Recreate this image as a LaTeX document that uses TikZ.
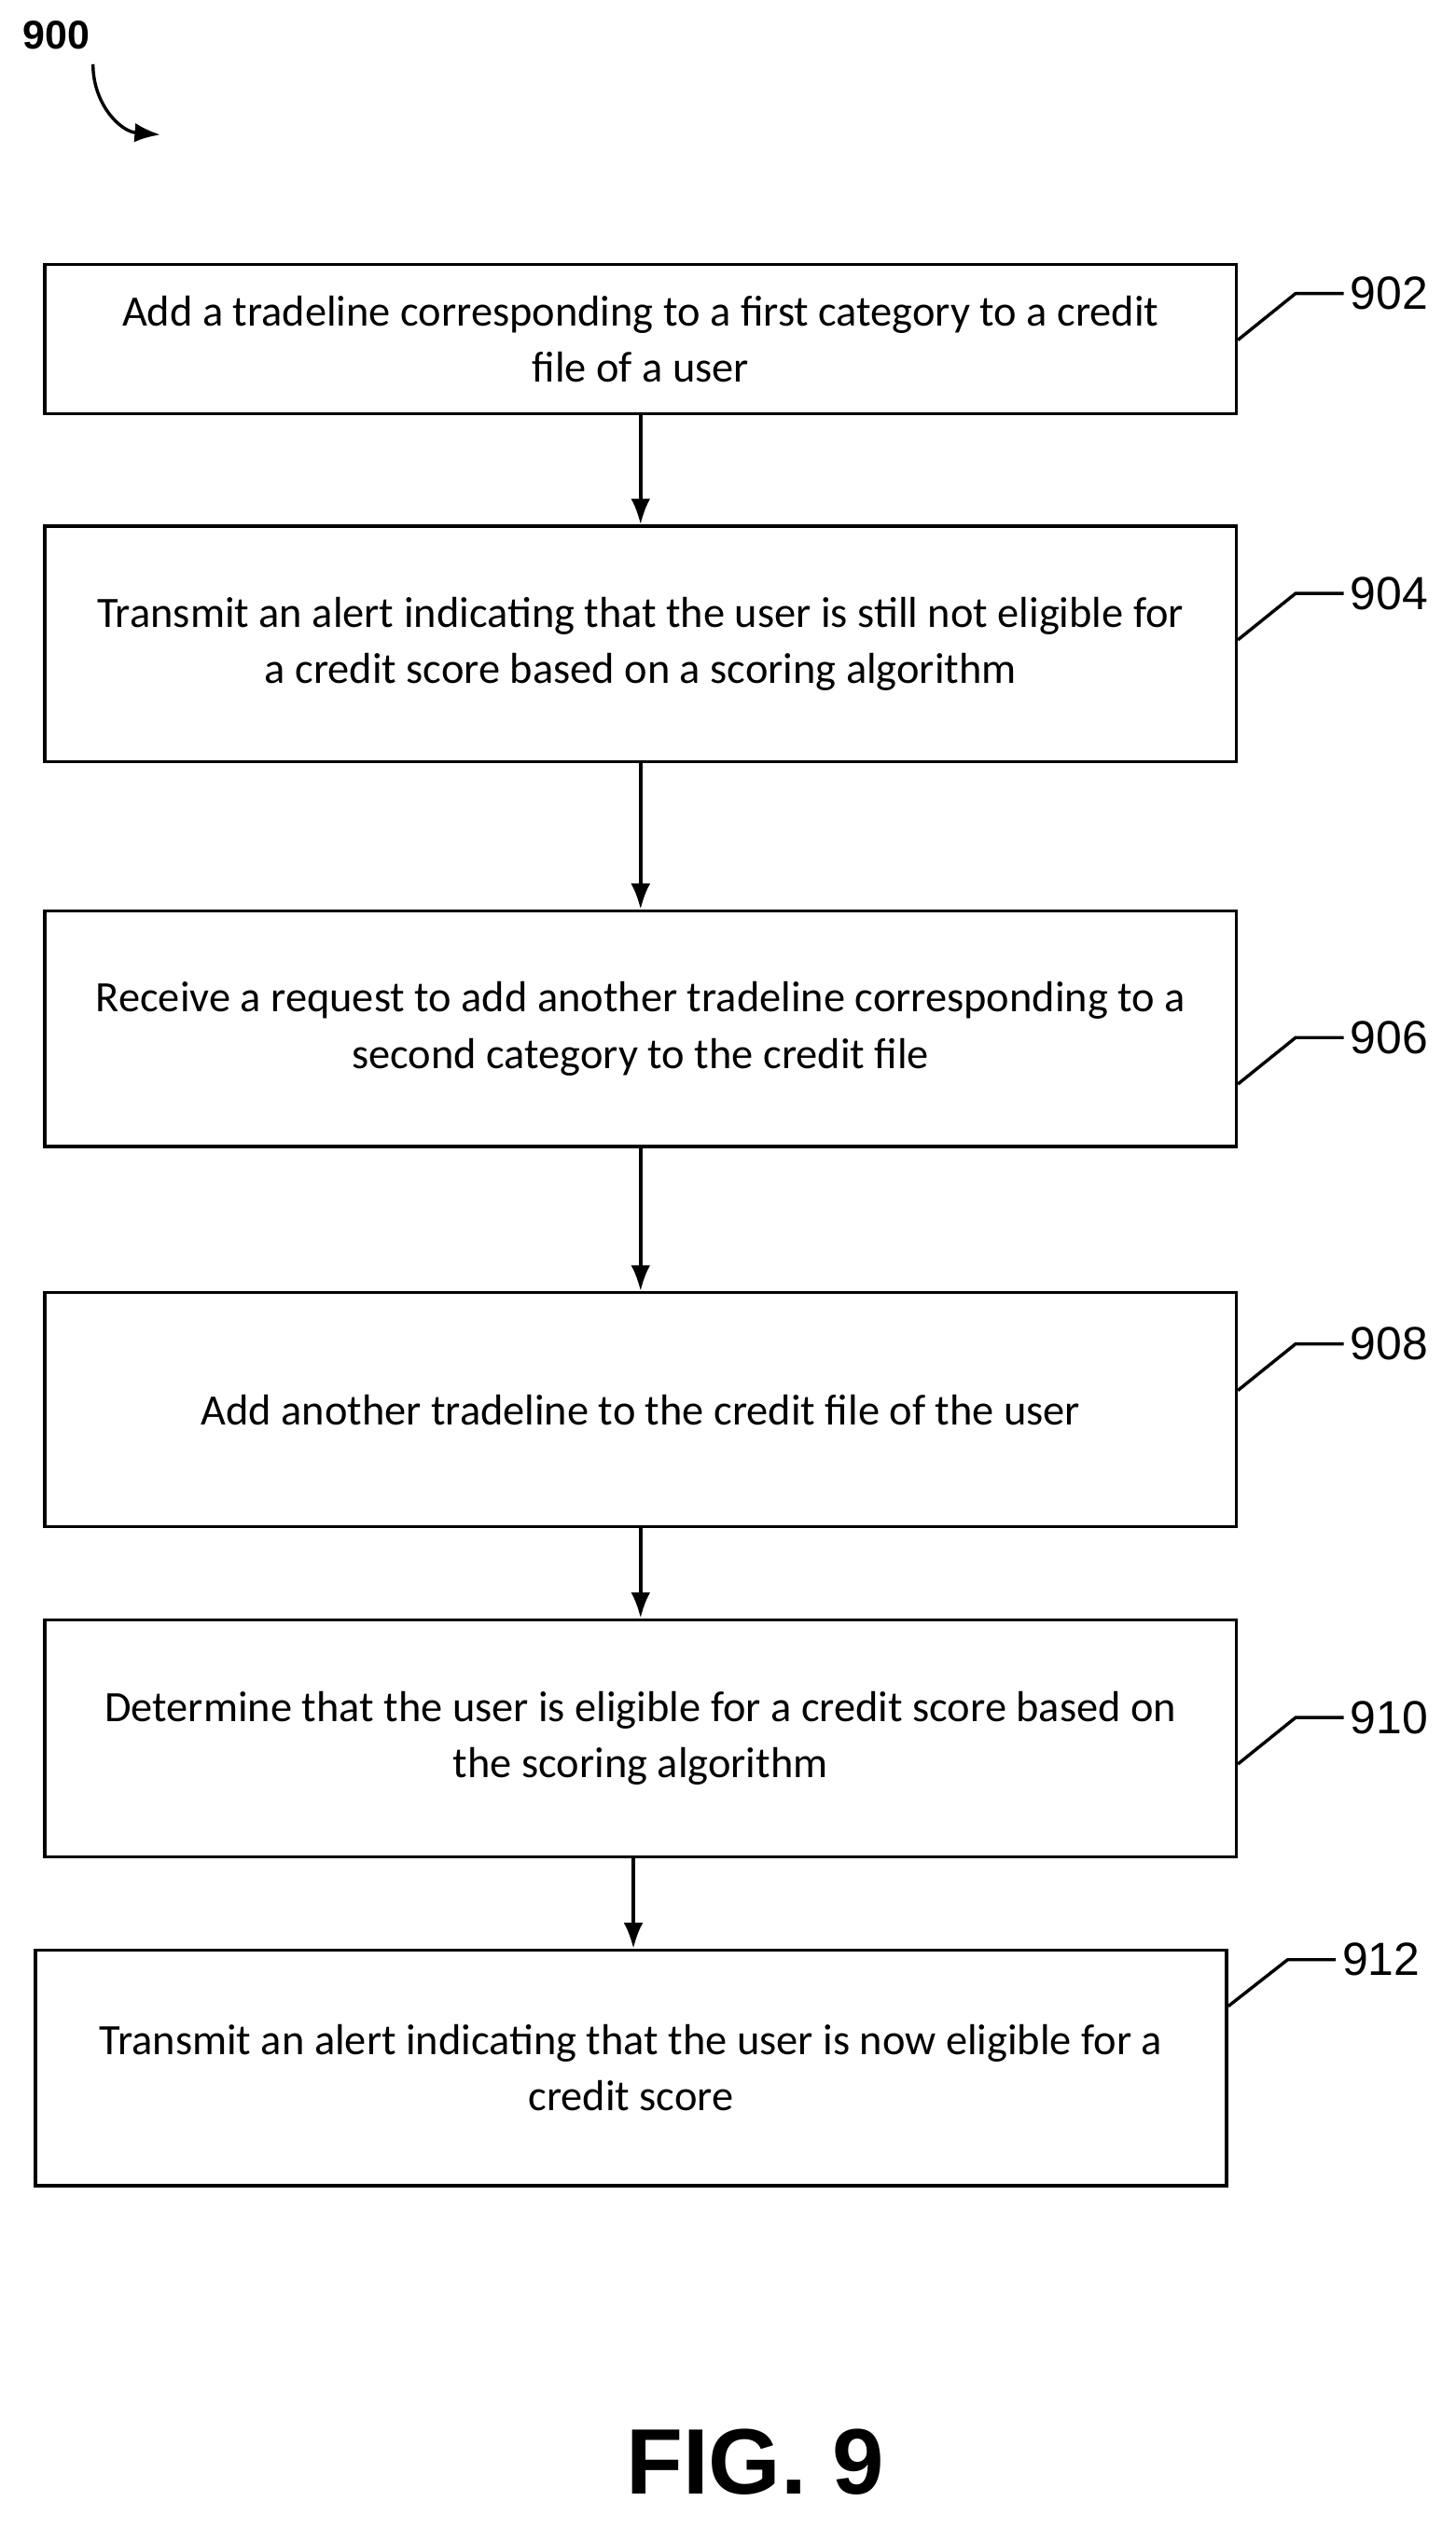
\documentclass[tikz,border=0pt]{standalone}
\usepackage{fontspec}
\setmainfont{Carlito}
\newfontfamily\labelfont{Liberation Sans}
\usetikzlibrary{positioning,arrows.meta}

\tikzset{
    stepbox/.style={draw, line width=2pt, minimum width=743pt, align=center,
        inner sep=0pt, font=\fontsize{27}{35}\selectfont},
    flow/.style={line width=2pt, -{Latex[length=16pt,width=12pt]}},
    leader/.style={line width=2pt},
    ref/.style={font=\labelfont\fontsize{29}{30}\selectfont, anchor=west, inner sep=0pt}
}

\begin{document}
\begin{tikzpicture}[x=1pt,y=-1pt]
    \useasboundingbox (0,0) rectangle (908,1577);

    % Figure number
    \node[font=\labelfont\bfseries\fontsize{25}{26}\selectfont] (fignum) at (35,22) {900};
    \draw[line width=2pt, -{Latex[length=16pt,width=12pt]}] (58,40) .. controls (58,65) and (75,82) .. (100,84);

    % Steps
    \node[stepbox, minimum height=93pt] (s902) at (399.5,211.5) {Add a tradeline corresponding to a first category to a credit\\file of a user};
    \node[stepbox, minimum height=147pt] (s904) at (399.5,401.5) {Transmit an alert indicating that the user is still not eligible for\\a credit score based on a scoring algorithm};
    \node[stepbox, minimum height=147pt] (s906) at (399.5,641.5) {Receive a request to add another tradeline corresponding to a\\second category to the credit file};
    \node[stepbox, minimum height=146pt] (s908) at (399.5,879) {Add another tradeline to the credit file of the user};
    \node[stepbox, minimum height=148pt] (s910) at (399.5,1084) {Determine that the user is eligible for a credit score based on\\the scoring algorithm};
    \node[stepbox, minimum height=147pt] (s912) at (393.5,1289.5) {Transmit an alert indicating that the user is now eligible for a\\credit score};

    % Arrows
    \draw[flow] (s902) -- (s904);
    \draw[flow] (s904) -- (s906);
    \draw[flow] (s906) -- (s908);
    \draw[flow] (s908) -- (s910);
    \draw[flow] (s910.south -| 395,0) -- (s912.north -| 395,0);

    % Reference labels
    \foreach \n/\y in {902/183, 904/370, 906/647, 908/838, 910/1071} {
        \coordinate (k\n) at (808,\y);
        \draw[leader] (s\n.east |- 0,\y+29) -- (k\n) -- ++(30,0);
        \node[ref] (r\n) at (842,\y) {\n};
    }
    \coordinate (k912) at (803,1222);
    \draw[leader] (s912.east |- 0,1251) -- (k912) -- ++(30,0);
    \node[ref] (r912) at (837,1222) {912};

    % Caption
    \node[font=\labelfont\bfseries\fontsize{58}{62}\selectfont] (caption) at (471,1535) {FIG. 9};
\end{tikzpicture}
\end{document}
